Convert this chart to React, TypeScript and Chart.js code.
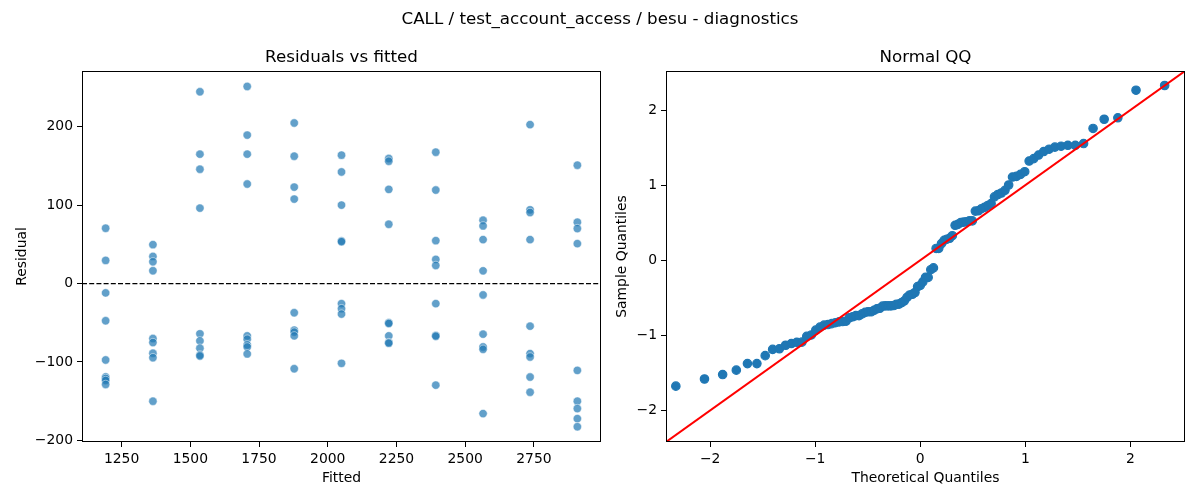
import React, { useEffect, useRef } from "react";
import { Chart, registerables } from "chart.js";
Chart.register(...registerables);

// ---------- data ----------
const SUPTITLE = "CALL / test_account_access / besu - diagnostics";
const LEFT_TITLE = "Residuals vs fitted";
const RIGHT_TITLE = "Normal QQ";

const FITTED = [1192, 1364, 1535, 1707, 1878, 2050, 2222, 2393, 2565, 2736, 2908];
const RES_1192 = [70.5, 29.5, -11.9, -47.4, -97.4, -119, -121, -123.5, -128.6];
const RES_1364 = [49.6, 34.6, 27.8, 16.3, -70.1, -75.2, -88.8, -94.5, -150];
const RES_1535 = [244.5, 165, 145.8, 96.2, -64.1, -73.1, -82.4, -91, -92.3];
const RES_1707 = [251.3, 189.3, 165, 126.9, -66.7, -70.9, -78.2, -80.8, -89.7];
const RES_1878 = [204.7, 162.4, 123, 107.7, -37.2, -59.4, -61.9, -66.7, -108.6];
const RES_2050 = [163.7, 142.3, 100, 54.2, 53.4, -25.6, -32, -38.9, -101.7];
const RES_2222 = [159.4, 156, 120.1, 75.6, -50, -50.9, -66.7, -75.2, -76];
const RES_2393 = [167.5, 119.2, 54.7, 30.8, 23.1, -25.6, -66.2, -67.1, -129.5];
const RES_2565 = [80.8, 73.5, 56, 16.2, -14.5, -64.5, -80.8, -83.8, -165.8];
const RES_2736 = [202.6, 94, 90.6, 56, -54.3, -89.3, -93.6, -119.2, -138.5];
const RES_2908 = [150.9, 78.2, 70.1, 50.9, -110.7, -150, -159.4, -172.2, -182.5];
const RESIDUALS = [RES_1192, RES_1364, RES_1535, RES_1707, RES_1878, RES_2050, RES_2222, RES_2393, RES_2565, RES_2736, RES_2908];

// axis limits
const LX_MIN = 1106, LX_MAX = 2994, LY_MIN = -202, LY_MAX = 271;
const QQ_MIN = -2.42, QQ_MAX = 2.52;
const ZERO_LINE = [0, 0];

// ---------- derived tables ----------
const residPoints = FITTED.flatMap((f, i) => RESIDUALS[i].map((r) => ({ x: f, y: r })));

function normInv(p: number): number {
  const a = [-3.969683028665376e1, 2.209460984245205e2, -2.759285104469687e2, 1.38357751867269e2, -3.066479806614716e1, 2.506628277459239];
  const b = [-5.447609879822406e1, 1.615858368580409e2, -1.556989798598866e2, 6.680131188771972e1, -1.328068155288572e1];
  const c = [-7.784894002430293e-3, -3.223964580411365e-1, -2.400758277161838, -2.549732539343734, 4.374664141464968, 2.938163982698783];
  const d = [7.784695709041462e-3, 3.224671290700398e-1, 2.445134137142996, 3.754408661907416];
  const pl = 0.02425;
  if (p < pl) {
    const q = Math.sqrt(-2 * Math.log(p));
    return (((((c[0] * q + c[1]) * q + c[2]) * q + c[3]) * q + c[4]) * q + c[5]) / ((((d[0] * q + d[1]) * q + d[2]) * q + d[3]) * q + 1);
  }
  if (p > 1 - pl) {
    const q = Math.sqrt(-2 * Math.log(1 - p));
    return -(((((c[0] * q + c[1]) * q + c[2]) * q + c[3]) * q + c[4]) * q + c[5]) / ((((d[0] * q + d[1]) * q + d[2]) * q + d[3]) * q + 1);
  }
  const q = p - 0.5;
  const r = q * q;
  return ((((((a[0] * r + a[1]) * r + a[2]) * r + a[3]) * r + a[4]) * r + a[5]) * q) / (((((b[0] * r + b[1]) * r + b[2]) * r + b[3]) * r + b[4]) * r + 1);
}

const allRes = RESIDUALS.flat();
const n = allRes.length;
const mean = allRes.reduce((s, v) => s + v, 0) / n;
const sd = Math.sqrt(allRes.reduce((s, v) => s + (v - mean) ** 2, 0) / (n - 1));
const sorted = [...allRes].sort((p, q) => p - q);
const qqPoints = sorted.map((v, i) => ({ x: normInv((i + 1) / (n + 1)), y: (v - mean) / sd }));

// ---------- styling ----------
const FONT = "'DejaVu Sans', 'Liberation Sans', sans-serif";
const TICK_PX = 13.9;
const fmt = (v: number | string) => {
  const num = Number(v);
  return num < 0 ? "\u2212" + String(Math.abs(num)) : String(num);
};

const framePlugin = {
  id: "frame",
  afterDraw(chart: any) {
    const { ctx, chartArea: a } = chart;
    ctx.save();
    ctx.strokeStyle = "#000";
    ctx.lineWidth = 1;
    ctx.strokeRect(Math.round(a.left) + 0.5, Math.round(a.top) + 0.5, Math.round(a.right - a.left) - 1, Math.round(a.bottom - a.top) - 1);
    ctx.restore();
  },
};

function axis(min: number, max: number, step: number, title: string, titlePad: any, fixedSize: number, horizontal: boolean) {
  return {
    type: "linear",
    min,
    max,
    border: { display: false },
    grid: { display: true, drawOnChartArea: false, drawTicks: true, tickLength: 5, color: "#000", lineWidth: 1 },
    ticks: {
      stepSize: step,
      includeBounds: false,
      autoSkip: false,
      maxRotation: 0,
      padding: 4,
      color: "#000",
      font: { family: FONT, size: TICK_PX },
      callback: (v: any) => fmt(v),
    },
    title: { display: true, text: title, color: "#000", font: { family: FONT, size: TICK_PX }, padding: titlePad },
    afterFit: (scale: any) => {
      if (horizontal) scale.height = fixedSize;
      else scale.width = fixedSize;
    },
  };
}

export default function App() {
  const leftRef = useRef<HTMLCanvasElement | null>(null);
  const rightRef = useRef<HTMLCanvasElement | null>(null);

  useEffect(() => {
    document.body.style.margin = "0";
    const left = new Chart(leftRef.current as HTMLCanvasElement, {
      type: "scatter",
      data: {
        datasets: [
          {
            type: "line",
            data: [
              { x: LX_MIN, y: ZERO_LINE[0] },
              { x: LX_MAX, y: ZERO_LINE[1] },
            ],
            borderColor: "#000",
            borderWidth: 1.3,
            borderDash: [5, 2.2],
            pointRadius: 0,
            order: 0,
          } as any,
          {
            data: residPoints,
            backgroundColor: "rgba(31,119,180,0.7)",
            borderColor: "rgba(255,255,255,0.7)",
            borderWidth: 0.7,
            pointRadius: 4.2,
            pointHoverRadius: 4.2,
            order: 1,
          },
        ],
      },
      options: {
        responsive: false,
        animation: false,
        events: [],
        layout: { padding: { top: 71, right: 9, left: 0, bottom: 0 } },
        plugins: { legend: { display: false }, tooltip: { enabled: false }, title: { display: false } },
        scales: {
          x: axis(LX_MIN, LX_MAX, 250, "Fitted", { top: 0, bottom: 13 }, 58, true) as any,
          y: axis(LY_MIN, LY_MAX, 100, "Residual", { top: 14, bottom: 0 }, 82, false) as any,
        },
      },
      plugins: [framePlugin],
    });

    const right = new Chart(rightRef.current as HTMLCanvasElement, {
      type: "scatter",
      data: {
        datasets: [
          {
            type: "line",
            data: [
              { x: QQ_MIN, y: QQ_MIN },
              { x: QQ_MAX, y: QQ_MAX },
            ],
            borderColor: "#ff0000",
            borderWidth: 2,
            pointRadius: 0,
            order: 0,
          } as any,
          {
            data: qqPoints,
            backgroundColor: "#1f77b4",
            borderColor: "#1f77b4",
            borderWidth: 1.2,
            pointRadius: 4.2,
            pointHoverRadius: 4.2,
            order: 1,
          },
        ],
      },
      options: {
        responsive: false,
        animation: false,
        events: [],
        layout: { padding: { top: 71, right: 15, left: 0, bottom: 0 } },
        plugins: { legend: { display: false }, tooltip: { enabled: false }, title: { display: false } },
        scales: {
          x: axis(QQ_MIN, QQ_MAX, 1, "Theoretical Quantiles", { top: 0, bottom: 13 }, 58, true) as any,
          y: axis(QQ_MIN, QQ_MAX, 1, "Sample Quantiles", { top: 4, bottom: 0 }, 56, false) as any,
        },
      },
      plugins: [framePlugin],
    });

    return () => {
      left.destroy();
      right.destroy();
    };
  }, []);

  const titleStyle: React.CSSProperties = {
    position: "absolute",
    textAlign: "center",
    fontFamily: FONT,
    fontSize: 16.7,
    lineHeight: "20px",
    color: "#000",
    whiteSpace: "nowrap",
  };

  return (
    <div style={{ position: "fixed", left: 0, top: 0, width: 1200, height: 500, background: "#fff", overflow: "hidden" }}>
      <canvas ref={leftRef} width={610} height={500} style={{ position: "absolute", left: 0, top: 0, width: 610, height: 500 }} />
      <canvas ref={rightRef} width={590} height={500} style={{ position: "absolute", left: 610, top: 0, width: 590, height: 500 }} />
      <div style={{ ...titleStyle, left: 0, width: 1200, top: 8 }}>{SUPTITLE}</div>
      <div style={{ ...titleStyle, left: 82, width: 519, top: 46 }}>{LEFT_TITLE}</div>
      <div style={{ ...titleStyle, left: 666, width: 519, top: 46 }}>{RIGHT_TITLE}</div>
    </div>
  );
}
